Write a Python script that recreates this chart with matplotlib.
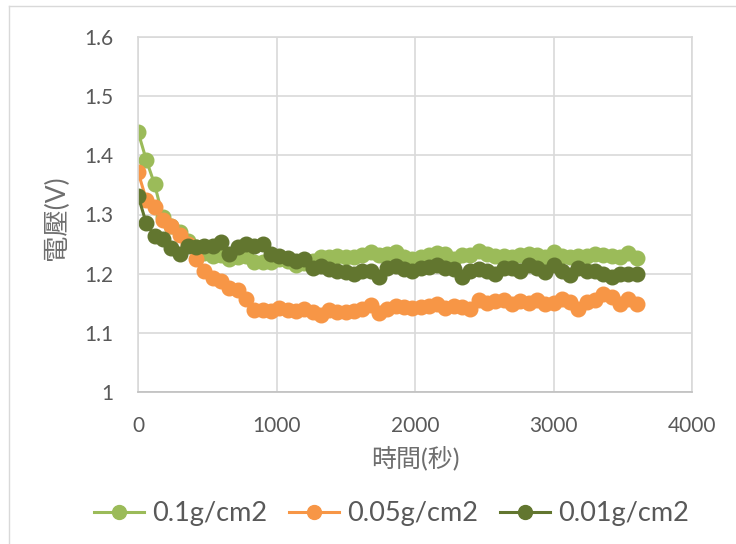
import numpy as np
import matplotlib.pyplot as plt
from matplotlib.lines import Line2D

plt.rcParams['font.family'] = ['Lato', 'Noto Sans CJK TC', 'DejaVu Sans']

# 時間(秒): 每 60 秒一點
t = np.arange(0, 3601, 60)

v_01 = [1.440, 1.392, 1.351, 1.295, 1.280, 1.270, 1.255, 1.245, 1.235, 1.230,
        1.232, 1.225, 1.228, 1.230, 1.220, 1.220, 1.220, 1.225, 1.222, 1.215,
        1.218, 1.222, 1.228, 1.228, 1.230, 1.228, 1.228, 1.232, 1.236, 1.232,
        1.233, 1.236, 1.228, 1.225, 1.228, 1.232, 1.235, 1.233, 1.225, 1.232,
        1.232, 1.238, 1.233, 1.230, 1.230, 1.228, 1.232, 1.233, 1.232, 1.228,
        1.236, 1.230, 1.228, 1.230, 1.230, 1.233, 1.232, 1.230, 1.228, 1.235,
        1.227]

v_005 = [1.372, 1.325, 1.312, 1.290, 1.280, 1.266, 1.250, 1.225, 1.205, 1.192,
         1.187, 1.176, 1.172, 1.157, 1.138, 1.138, 1.137, 1.142, 1.138, 1.137,
         1.140, 1.135, 1.130, 1.138, 1.135, 1.136, 1.137, 1.140, 1.147, 1.133,
         1.140, 1.145, 1.143, 1.142, 1.143, 1.145, 1.148, 1.142, 1.145, 1.143,
         1.140, 1.155, 1.150, 1.153, 1.155, 1.148, 1.153, 1.150, 1.155, 1.148,
         1.150, 1.158, 1.152, 1.140, 1.152, 1.155, 1.165, 1.160, 1.148, 1.158,
         1.148]

v_001 = [1.332, 1.285, 1.264, 1.259, 1.243, 1.233, 1.246, 1.245, 1.246, 1.246,
         1.253, 1.233, 1.245, 1.250, 1.246, 1.250, 1.233, 1.230, 1.227, 1.222,
         1.225, 1.210, 1.213, 1.208, 1.205, 1.203, 1.200, 1.205, 1.205, 1.195,
         1.210, 1.213, 1.208, 1.205, 1.210, 1.212, 1.215, 1.210, 1.208, 1.195,
         1.205, 1.208, 1.205, 1.200, 1.210, 1.210, 1.205, 1.215, 1.210, 1.203,
         1.215, 1.205, 1.198, 1.210, 1.205, 1.205, 1.200, 1.195, 1.200, 1.200,
         1.200]

labels = ['0.1g/cm2', '0.05g/cm2', '0.01g/cm2']
colors = ['#9BBB59', '#F79646', '#62762F']

fig = plt.figure(figsize=(7.36, 5.44), dpi=100)
ax = fig.add_axes([138 / 736, 1 - 392 / 544, (692 - 138) / 736, (392 - 37) / 544])

for v, lab, c in zip([v_01, v_005, v_001], labels, colors):
    ax.plot(t, v, color=c, lw=2.2, marker='o', ms=10.5, label=lab)

ax.set_xlim(0, 4000)
ax.set_ylim(1.0, 1.6)
ax.set_xticks([0, 1000, 2000, 3000, 4000])
ax.set_yticks([1.0, 1.1, 1.2, 1.3, 1.4, 1.5, 1.6])
ax.set_yticklabels(['1', '1.1', '1.2', '1.3', '1.4', '1.5', '1.6'])
ax.grid(True, color='#D9D9D9', lw=1.2)
ax.set_axisbelow(True)
for s in ax.spines.values():
    s.set_color('#D9D9D9')
    s.set_linewidth(1.2)
ax.spines['bottom'].set_color('#BFBFBF')
ax.tick_params(axis='x', length=0, labelsize=15, colors='#595959', pad=17)
ax.tick_params(axis='y', length=0, labelsize=15, colors='#595959', pad=18)

ax.set_xlabel('時間(秒)', fontsize=18, color='#6E6E6E')
ax.set_ylabel('電壓(V)', fontsize=19, color='#6E6E6E')
ax.xaxis.set_label_coords(0.5, -0.15)
ax.yaxis.set_label_coords(-0.125, 0.49)

handles = [Line2D([], [], color=c, lw=2.2, marker='o', ms=10) for c in colors]
fig.legend(handles, labels, loc='center', bbox_to_anchor=(0.532, 1 - 514 / 544),
           ncol=3, frameon=False, fontsize=19.5, handlelength=1.85,
           handletextpad=0.3, columnspacing=0.8, labelcolor='#595959')

# 外框
fig.add_artist(Line2D([9 / 736, 9 / 736], [0, 1 - 6 / 544], color='#D9D9D9', lw=1))
fig.add_artist(Line2D([9 / 736, 1], [1 - 6 / 544, 1 - 6 / 544], color='#D9D9D9', lw=1))

fig.savefig('out.png', dpi=100)
